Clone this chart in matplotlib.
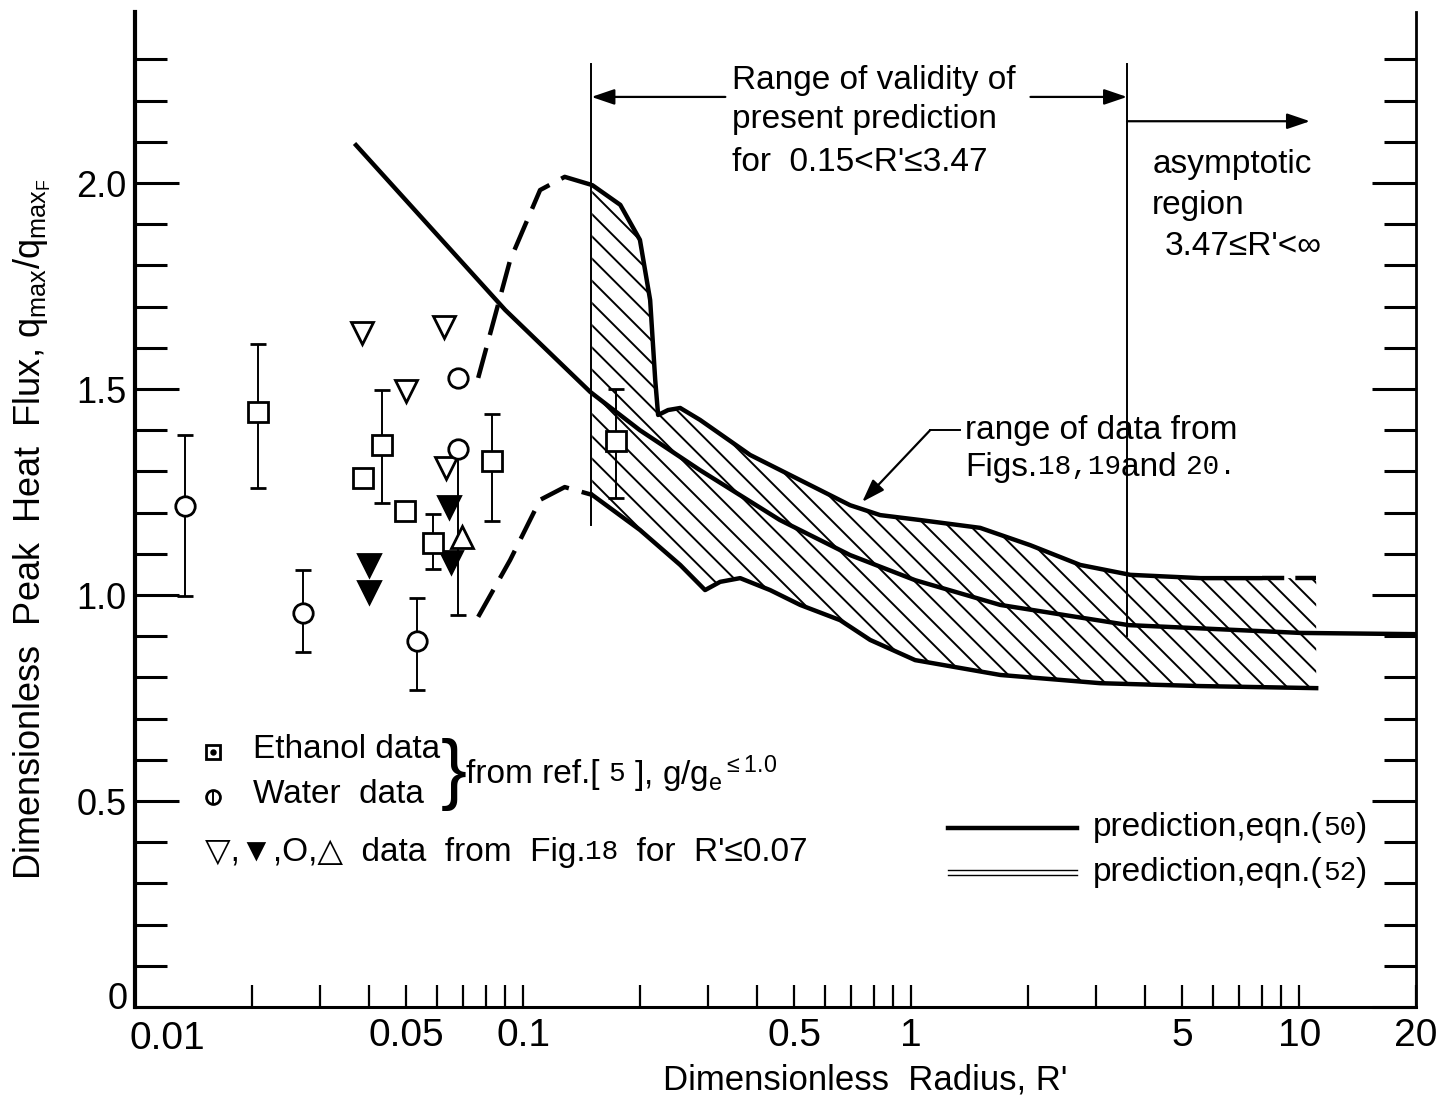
import numpy as np
import matplotlib
matplotlib.use('Agg')
import matplotlib.pyplot as plt
from matplotlib.ticker import FixedLocator, FuncFormatter
from matplotlib import font_manager

_names = {f.name for f in font_manager.fontManager.ttflist}
BASE = 'Liberation Sans Narrow' if 'Liberation Sans Narrow' in _names else 'Liberation Sans'
MONO = 'Liberation Mono' if 'Liberation Mono' in _names else 'DejaVu Sans Mono'
FONT = [BASE, 'DejaVu Sans']
plt.rcParams['font.family'] = FONT
plt.rcParams['mathtext.fontset'] = 'custom'
plt.rcParams['mathtext.rm'] = BASE
plt.rcParams['mathtext.it'] = BASE
plt.rcParams['hatch.linewidth'] = 0.7

# ---------------- data ----------------
# Ethanol data (ref. 5) with error bars
eth_x = [0.0208, 0.0433, 0.0832, 0.174, 0.0586]
eth_y = [1.444, 1.364, 1.325, 1.374, 1.126]
eth_lo = [1.26, 1.223, 1.18, 1.235, 1.063]
eth_hi = [1.61, 1.498, 1.44, 1.50, 1.197]
# open squares without error bars
sq_x = [0.0387, 0.0497]
sq_y = [1.284, 1.204]
# Water data (ref. 5) with error bars
wat_x = [0.01345, 0.0271, 0.0533, 0.068]
wat_y = [1.216, 0.956, 0.888, 1.354]
wat_lo = [0.998, 0.862, 0.769, 0.951]
wat_hi = [1.388, 1.061, 0.993, 1.354]
# Fig. 18 data
tdn_x = [0.0385, 0.0626, 0.0499, 0.0632]
tdn_y = [1.636, 1.650, 1.495, 1.308]
tdf_x = [0.0401, 0.0401, 0.0644, 0.0650]
tdf_y = [1.073, 1.007, 1.214, 1.080]
circ_x = [0.068]
circ_y = [1.527]
tup_x = [0.0697]
tup_y = [1.141]

# prediction eqn (50)
p50_x = [0.0371, 0.0899, 0.1489, 0.200, 0.2858, 0.459, 0.696, 1.024, 1.696, 3.63, 10.07, 20.0]
p50_y = [2.092, 1.692, 1.493, 1.400, 1.303, 1.182, 1.097, 1.036, 0.976, 0.927, 0.908, 0.905]

# band (range of data) upper boundary
ubd_x = [0.0766, 0.0926, 0.1106, 0.128, 0.1507]
ubd_y = [1.527, 1.813, 1.983, 2.015, 1.995]
ub_x = [0.1507, 0.178, 0.200, 0.2125, 0.219, 0.2228, 0.2364, 0.254, 0.2858, 0.3846,
        0.5175, 0.696, 0.832, 1.055, 1.506, 2.027, 2.727, 3.67, 5.56, 8.0]
ub_y = [1.995, 1.947, 1.862, 1.716, 1.522, 1.437, 1.449, 1.454, 1.425, 1.340,
        1.279, 1.218, 1.194, 1.182, 1.163, 1.121, 1.073, 1.049, 1.041, 1.041]
ube_x = [8.0, 11.06]
ube_y = [1.041, 1.041]
# band lower boundary
lbd_x = [0.0766, 0.0926, 0.1106, 0.128, 0.1507]
lbd_y = [0.947, 1.085, 1.231, 1.262, 1.243]
lb_x = [0.1507, 0.200, 0.254, 0.2944, 0.322, 0.3625, 0.433, 0.5175, 0.656, 0.784,
        1.024, 1.696, 3.07, 5.56, 11.06]
lb_y = [1.243, 1.158, 1.073, 1.012, 1.032, 1.041, 1.012, 0.976, 0.939, 0.891,
        0.842, 0.806, 0.786, 0.779, 0.774]

# range markers
R_lo = 0.15
R_hi = 3.6
R_arrow_end = 10.66

x_ticks = [0.01, 0.02, 0.03, 0.04, 0.05, 0.06, 0.07, 0.08, 0.09,
           0.1, 0.2, 0.3, 0.4, 0.5, 0.6, 0.7, 0.8, 0.9,
           1, 2, 3, 4, 5, 6, 7, 8, 9, 10, 20]
x_labels = {0.05: '0.05', 0.1: '0.1', 0.5: '0.5', 1: '1', 5: '5', 10: '10', 20: '20'}
y_major = [0, 0.5, 1.0, 1.5, 2.0]
y_major_labels = ['', '0.5', '1.0', '1.5', '2.0']
y_minor = [0.1, 0.2, 0.3, 0.4, 0.6, 0.7, 0.8, 0.9, 1.1, 1.2, 1.3, 1.4,
           1.6, 1.7, 1.8, 1.9, 2.1, 2.2, 2.3]

# ---------------- figure ----------------
fig = plt.figure(figsize=(7.215, 5.53), dpi=200)
ax = fig.add_axes([0.0936, 0.0895, 0.8877, 0.8996])
ax.set_xscale('log')
ax.set_xlim(0.01, 20)
ax.set_ylim(0, 2.415)

ax.xaxis.set_major_locator(FixedLocator(x_ticks))
ax.xaxis.set_minor_locator(FixedLocator([]))
ax.xaxis.set_major_formatter(FuncFormatter(
    lambda v, p: next((s for k, s in x_labels.items() if abs(k - v) < 1e-9 * max(1, v)), '')))
ax.yaxis.set_major_locator(FixedLocator(y_major))
ax.yaxis.set_major_formatter(FuncFormatter(
    lambda v, p: y_major_labels[p] if p is not None and p < len(y_major_labels) else ''))
ax.yaxis.set_minor_locator(FixedLocator(y_minor))

ax.tick_params(axis='x', which='both', direction='in', length=8, width=0.8,
               top=False, labelsize=14, pad=4)
ax.tick_params(axis='y', which='major', direction='in', length=16, width=1.1,
               left=True, right=True, labelsize=13, pad=3)
ax.tick_params(axis='y', which='minor', direction='in', length=11.5, width=1.1,
               left=True, right=True)
ax.spines['top'].set_visible(False)
ax.spines['left'].set_linewidth(1.5)
ax.spines['bottom'].set_linewidth(1.1)
ax.spines['right'].set_linewidth(1.0)

# corner labels "0" and "0.01" (offset as in the original)
ax.text(-0.006, 0.008, '0', transform=ax.transAxes, ha='right', va='center', fontsize=13)
ax.text(-0.004, -0.014, '0.01', transform=ax.transAxes, ha='left', va='top', fontsize=14)


def rich(x, y, parts, size=12, **kw):
    """Draw consecutive text pieces with different fonts."""
    fam, s0 = parts[0]
    prev = ax.text(x, y, s0, fontsize=size if fam == 'r' else size - 2,
                   family=FONT if fam == 'r' else [MONO, 'DejaVu Sans Mono'],
                   va='center', ha='left', **kw)
    for fam, s in parts[1:]:
        prev = ax.annotate(s, xy=(1, 0.5), xycoords=prev, va='center', ha='left',
                           fontsize=size if fam == 'r' else size - 2,
                           family=FONT if fam == 'r' else [MONO, 'DejaVu Sans Mono'])
    return prev


# hatched band
band_x = np.concatenate([ub_x + ube_x[1:], lb_x[::-1]])
band_y = np.concatenate([ub_y + ube_y[1:], lb_y[::-1]])
ax.fill(band_x, band_y, facecolor='none', edgecolor='black', hatch='\\\\\\', linewidth=0)

lw_b = 1.6
ax.plot(ub_x, ub_y, color='black', lw=lw_b, solid_capstyle='round')
ax.plot(lb_x, lb_y, color='black', lw=lw_b)
ax.plot(ubd_x, ubd_y, color='black', lw=lw_b, dashes=(7, 3))
ax.plot(lbd_x, lbd_y, color='black', lw=lw_b, dashes=(7, 3))
ax.plot(ube_x, ube_y, color='black', lw=lw_b, dashes=(5, 2.5))

# prediction eqn (50)
ax.plot(p50_x, p50_y, color='black', lw=1.6)

# vertical range lines
ax.plot([R_lo, R_lo], [1.17, 2.29], color='black', lw=0.7)
ax.plot([R_hi, R_hi], [0.90, 2.29], color='black', lw=0.7)

# arrows
ap = dict(arrowstyle='-|>,head_length=0.5,head_width=0.17', color='black', lw=0.8,
          shrinkA=0, shrinkB=0, mutation_scale=14)
ax.annotate('', xy=(R_lo, 2.209), xytext=(0.332, 2.209), arrowprops=ap)
ax.annotate('', xy=(R_hi, 2.209), xytext=(2.03, 2.209), arrowprops=ap)
ax.annotate('', xy=(R_arrow_end, 2.150), xytext=(R_hi, 2.150), arrowprops=ap)

ax.text(0.345, 2.25, 'Range of validity of', fontsize=12, va='center', ha='left')
ax.text(0.345, 2.155, 'present prediction', fontsize=12, va='center', ha='left')
ax.text(0.345, 2.05, "for  0.15<R'\u22643.47", fontsize=12, va='center', ha='left')

ax.text(4.18, 2.045, 'asymptotic', fontsize=12, va='center', ha='left')
ax.text(4.18, 1.945, 'region', fontsize=12, va='center', ha='left')
ax.text(4.5, 1.845, "3.47\u2264R'<\u221e", fontsize=12, va='center', ha='left')

# range of data label with leader
ax.text(1.38, 1.40, 'range of data from', fontsize=12, va='center', ha='left')
rich(1.38, 1.31, [('r', 'Figs.'), ('m', '18,19'), ('r', 'and '), ('m', '20.')])
ax.plot([1.119, 1.34], [1.40, 1.40], color='black', lw=0.7)
ax.annotate('', xy=(0.748, 1.226), xytext=(1.119, 1.40), arrowprops=ap)

# data points
mk_kw = dict(color='black', mfc='white', mec='black', mew=1.0, ls='none')
mk_nc = {k: v for k, v in mk_kw.items() if k != 'color'}
eth_err = [np.array(eth_y) - np.array(eth_lo), np.array(eth_hi) - np.array(eth_y)]
ax.errorbar(eth_x, eth_y, yerr=eth_err, fmt='s', ms=7, capsize=3, elinewidth=0.7,
            capthick=0.7, ecolor='black', **mk_nc)
ax.plot(eth_x, eth_y, 'o', ms=1.8, color='black', ls='none')
ax.plot(sq_x, sq_y, 's', ms=7, **mk_kw)

wat_err = [np.array(wat_y) - np.array(wat_lo), np.array(wat_hi) - np.array(wat_y)]
ax.errorbar(wat_x, wat_y, yerr=wat_err, fmt='o', ms=7, capsize=3, elinewidth=0.7,
            capthick=0.7, ecolor='black', **mk_nc)
ax.plot(wat_x, wat_y, '|', ms=7, color='black', mew=0.7, ls='none')

ax.plot(tdn_x, tdn_y, 'v', ms=8, **mk_kw)
ax.plot(tdf_x, tdf_y, 'v', ms=8, color='black', ls='none')
ax.plot(circ_x, circ_y, 'o', ms=7, **mk_kw)
ax.plot(tup_x, tup_y, '^', ms=8, **mk_kw)

# legend (lower left)
ax.plot([0.0159], [0.619], 's', ms=5, **mk_kw)
ax.plot([0.0159], [0.619], 'o', ms=1.3, color='black')
ax.plot([0.0159], [0.510], 'o', ms=5, **mk_kw)
ax.plot([0.0159], [0.510], '|', ms=5, color='black', mew=0.7)
ax.text(0.0201, 0.625, 'Ethanol data', fontsize=12, va='center', ha='left')
ax.text(0.0201, 0.515, 'Water  data', fontsize=12, va='center', ha='left')
ax.text(0.0612, 0.565, '}', fontsize=28, va='center', ha='left', fontweight='light')
rich(0.0712, 0.565, [('r', 'from ref.[ '), ('m', '5'), ('r', ' ], g/g$_e$$^{\\leq 1.0}$')])
rich(0.0151, 0.376, [('r', "\u25bd,\u25bc,O,\u25b3  data  from  Fig."), ('m', '18'),
                     ('r', "  for  R'\u22640.07")])

# legend (lower right)
ax.plot([0.635, 0.735], [0.18, 0.18], color='black', lw=1.6, transform=ax.transAxes)
ax.plot([0.635, 0.735], [0.1375, 0.1375], color='black', lw=0.5, transform=ax.transAxes)
ax.plot([0.635, 0.735], [0.1325, 0.1325], color='black', lw=0.5, transform=ax.transAxes)
t1 = ax.text(0.748, 0.18, 'prediction,eqn.(', fontsize=12, va='center', ha='left',
             transform=ax.transAxes)
t1b = ax.annotate('50', xy=(1, 0.5), xycoords=t1, va='center', ha='left', fontsize=10,
                  family=[MONO, 'DejaVu Sans Mono'])
ax.annotate(')', xy=(1, 0.5), xycoords=t1b, va='center', ha='left', fontsize=12)
t2 = ax.text(0.748, 0.135, 'prediction,eqn.(', fontsize=12, va='center', ha='left',
             transform=ax.transAxes)
t2b = ax.annotate('52', xy=(1, 0.5), xycoords=t2, va='center', ha='left', fontsize=10,
                  family=[MONO, 'DejaVu Sans Mono'])
ax.annotate(')', xy=(1, 0.5), xycoords=t2b, va='center', ha='left', fontsize=12)

ax.set_xlabel("Dimensionless  Radius, R'", fontsize=12.5)
ax.xaxis.set_label_coords(0.57, -0.057)
ax.set_ylabel("Dimensionless  Peak  Heat  Flux, q$_{max}$/q$_{max_F}$", fontsize=13)
ax.yaxis.set_label_coords(-0.064, 0.48)

fig.savefig('out.png', dpi=200)
